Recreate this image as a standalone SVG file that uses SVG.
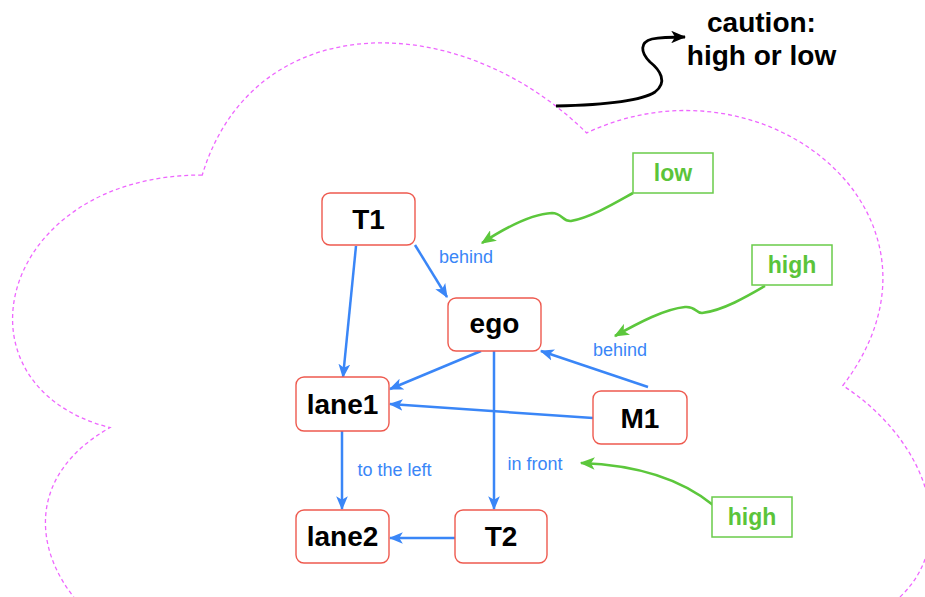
<svg xmlns="http://www.w3.org/2000/svg" width="925" height="597" viewBox="0 0 925 597">
  <style>
    .cloud { fill: none; stroke: #EE66FF; stroke-width: 1.3; stroke-dasharray: 4 3; }
    .node rect { fill: #ffffff; stroke: #EE5A4F; stroke-width: 1.4; }
    .node text { font-family: "Liberation Sans", Arial, sans-serif; font-weight: bold; font-size: 28px; fill: #000000; text-anchor: middle; }
    .tag rect { fill: #ffffff; stroke: #6ACB4A; stroke-width: 1.5; }
    .tag text { font-family: "Liberation Sans", Arial, sans-serif; font-weight: bold; font-size: 23px; fill: #5BC43A; text-anchor: middle; }
    .edge { fill: none; stroke: #3A86F7; stroke-width: 2.5; marker-end: url(#arrowBlue); }
    .hint { fill: none; stroke: #5CC73C; stroke-width: 2.6; marker-end: url(#arrowGreen); }
    .note { fill: none; stroke: #000000; stroke-width: 2.8; marker-end: url(#arrowBlack); }
    .lbl { font-family: "Liberation Sans", Arial, sans-serif; font-size: 18px; fill: #3A86F7; text-anchor: middle; }
    .caution { font-family: "Liberation Sans", Arial, sans-serif; font-weight: bold; font-size: 28px; fill: #000000; text-anchor: middle; }
  </style>
  <defs>
    <marker id="arrowBlue" markerUnits="userSpaceOnUse" viewBox="0 0 12 10" markerWidth="14" markerHeight="12" refX="11" refY="5" orient="auto">
      <path d="M0,0 L12,5 L0,10 L3,5 z" fill="#3A86F7"/>
    </marker>
    <marker id="arrowGreen" markerUnits="userSpaceOnUse" viewBox="0 0 12 10" markerWidth="15" markerHeight="12.5" refX="11" refY="5" orient="auto">
      <path d="M0,0 L12,5 L0,10 L3,5 z" fill="#5CC73C"/>
    </marker>
    <marker id="arrowBlack" markerUnits="userSpaceOnUse" viewBox="0 0 12 10" markerWidth="15" markerHeight="12.5" refX="11" refY="5" orient="auto">
      <path d="M0,0 L12,5 L0,10 L3,5 z" fill="#000000"/>
    </marker>
  </defs>

  <rect width="925" height="597" fill="#ffffff"/>

  <!-- dashed cloud outline -->
  <path id="cloud" class="cloud" d="M202.25,175 C-2.75,175 -54,385.5 110,427.6 C-54,520.2 130.5,722.3 263.75,638.1 C356,806.5 663.5,806.5 766,638.1 C971,638.1 971,469.7 842.9,385.5 C971,217.1 766,48.7 586.6,132.9 C458.5,6.6 253.5,6.6 202.25,175 Z"/>

  <!-- connectors -->
  <g id="connectors">
    <path class="edge" d="M356,246 L343,377"/>
    <path class="edge" d="M415,245 L447,297"/>
    <path class="edge" d="M481,351 L390,389"/>
    <path class="edge" d="M494,351 L494,509"/>
    <path class="edge" d="M593,418 L390,404"/>
    <path class="edge" d="M648,387 L541,351"/>
    <path class="edge" d="M342,431 L342,509"/>
    <path class="edge" d="M455,538 L390,538"/>

    <path class="hint" d="M633,193 C615,203 592,217 571,221 C563,222 562,213 552,213 C530,214 505,228 482,243"/>
    <path class="hint" d="M765,286 C748,296 722,311 702,313 C695,313 696,306 685,307 C665,309 640,322 615,336"/>
    <path class="hint" d="M713,505 Q665,466 581,463"/>

    <path class="note" d="M556,106 C600,105 640,102 655,92 C668,82 660,70 650,62 C640,52 640,42 652,39 C662,37 672,37 685,37"/>
  </g>

  <!-- edge labels -->
  <g id="edge-labels">
    <text class="lbl" x="466" y="263">behind</text>
    <text class="lbl" x="620" y="356">behind</text>
    <text class="lbl" x="394.5" y="476">to the left</text>
    <text class="lbl" x="535" y="470">in front</text>
  </g>

  <!-- nodes -->
  <g id="T1" class="node"><rect x="322" y="193" width="93" height="52" rx="8"/><text x="368.5" y="229">T1</text></g>
  <g id="ego" class="node"><rect x="448" y="298" width="93" height="53" rx="8"/><text x="494.5" y="333">ego</text></g>
  <g id="lane1" class="node"><rect x="296" y="377" width="93" height="54" rx="8"/><text x="342.5" y="414">lane1</text></g>
  <g id="M1" class="node"><rect x="593" y="391" width="94" height="53" rx="8"/><text x="640" y="428">M1</text></g>
  <g id="lane2" class="node"><rect x="296" y="510" width="93" height="53" rx="8"/><text x="342.5" y="546">lane2</text></g>
  <g id="T2" class="node"><rect x="455" y="510" width="92" height="53" rx="8"/><text x="501" y="546">T2</text></g>

  <!-- level tags -->
  <g id="tag-low" class="tag"><rect x="633" y="153" width="80" height="40"/><text x="673" y="181">low</text></g>
  <g id="tag-high-1" class="tag"><rect x="752" y="245" width="80" height="40"/><text x="792" y="273">high</text></g>
  <g id="tag-high-2" class="tag"><rect x="712" y="497" width="80" height="40"/><text x="752" y="525">high</text></g>

  <!-- caution note -->
  <g id="caution">
    <text class="caution" x="761.5" y="32">caution:</text>
    <text class="caution" x="761.5" y="65">high or low</text>
  </g>
</svg>
